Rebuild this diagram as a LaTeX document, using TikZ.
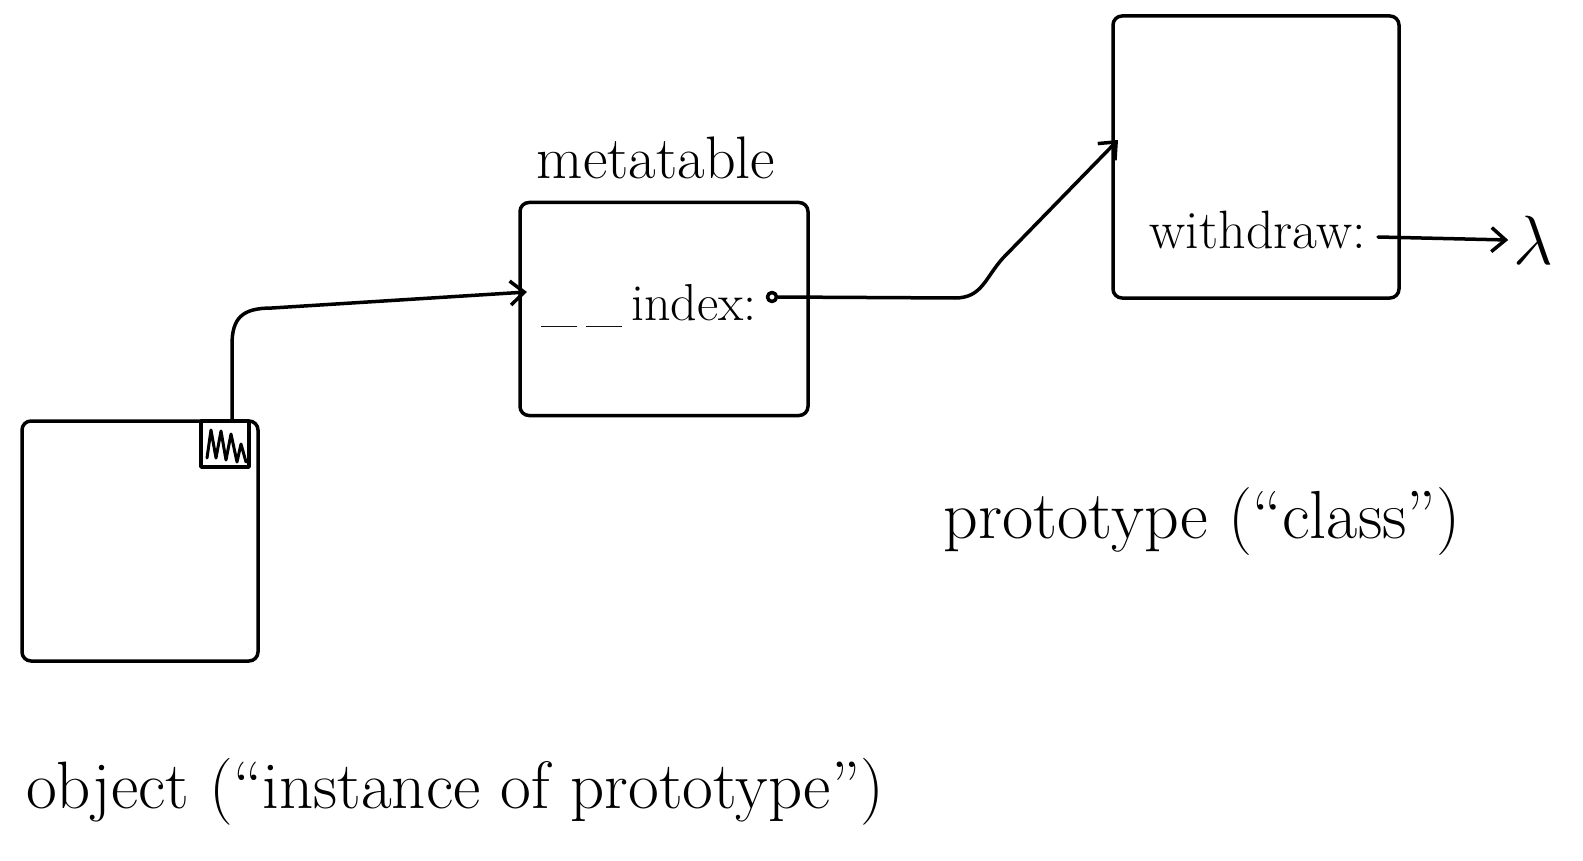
\documentclass[tikz,border=0pt]{standalone}
\usetikzlibrary{arrows.meta,calc}
\begin{document}
\begin{tikzpicture}[x=1pt,y=-1pt, line width=3.5pt, line cap=round, line join=round,
  box/.style={draw, rectangle, rounded corners=9pt, inner sep=0pt},
  lbl/.style={inner sep=0pt},
  arr/.style={-{Straight Barb[length=14pt,width=24pt,line width=3.5pt]}}]
\useasboundingbox (0,0) rectangle (1583,861);
% boxes
\node[box, minimum width=236pt, minimum height=240pt] (obj) at (140,541) {};
\node[draw, rectangle, inner sep=0pt, minimum width=48pt, minimum height=46pt] (slot) at (225,444) {};
\node[box, minimum width=288pt, minimum height=213pt] (meta) at (664,309) {};
\node[box, minimum width=286pt, minimum height=282pt] (proto) at (1256,157) {};
% scribble in slot
\draw[line width=3pt] (207,458)--(211,430)--(216,458)--(221,431)--(226,460)--(231,434)--(237,462)--(241,444)--(246,462);
% labels
\node[lbl, font=\fontsize{60}{66}\selectfont] (mtl) at (656,158) {metatable};
\node[lbl, font=\fontsize{52}{60}\selectfont, anchor=base west] (idx) at (540,320) {\_\,\_\,index:};
\node[draw, circle, inner sep=0pt, minimum size=9pt] (dot) at (772,297) {};
\node[lbl, font=\fontsize{54}{60}\selectfont, anchor=base west] (wd) at (1148,249) {withdraw:};
\coordinate (wdend) at (1378,237);
\node[lbl, font=\Huge, scale=2.8] (lam) at (1533,240) {$\lambda$};
\node[lbl, font=\fontsize{68}{74}\selectfont] (ptl) at (1202,522) {prototype (``class'')};
\node[lbl, font=\fontsize{67}{74}\selectfont] (otl) at (455,792) {object (``instance of prototype'')};
% connectors
\coordinate (idxin) at (527,292);
\draw[arr] (slot.north -| 232,0) -- (232,345) .. controls (232,318) and (242,308) .. (272,308) -- (idxin);
\coordinate (protoin) at (1118,140);
\draw[arr] (dot.east) -- (955,298) .. controls (982,298) and (985,278) .. (1003,258) -- (protoin);
\draw[arr] (wdend) -- (lam.west);
\end{tikzpicture}
\end{document}
